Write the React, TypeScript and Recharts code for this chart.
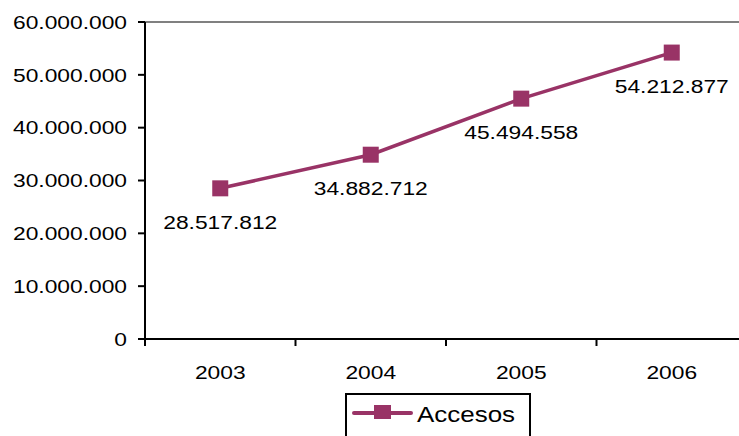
import React from 'react';
import { LineChart, Line, XAxis, YAxis, ReferenceLine, LabelList, Legend } from 'recharts';

const years = ['2003', '2004', '2005', '2006'];
const accesos = [28517812, 34882712, 45494558, 54212877];
const yTicks = [0, 10000000, 20000000, 30000000, 40000000, 50000000, 60000000];
const xTicks = [0, 0.5, 1, 1.5, 2, 2.5, 3, 3.5, 4];

const COLOR = '#993366';
const FONT = '"Liberation Sans", Arial, sans-serif';

// category positions sit in the middle of each slot, tick marks at the slot edges
const data = years.map((year, i) => ({ pos: i + 0.5, year, accesos: accesos[i] }));

const fmt = (v: number) => String(Math.round(v)).replace(/\B(?=(\d{3})+(?!\d))/g, '.');

const WideText = ({ x, y, anchor, size = 19, sx = 1.2, children }: any) => (
  <text
    transform={`translate(${x},${y}) scale(${sx},1)`}
    textAnchor={anchor}
    dominantBaseline="central"
    fontFamily={FONT}
    fontSize={size}
    fill="#000"
  >
    {children}
  </text>
);

const YTick = ({ x, y, payload }: any) => (
  <g>
    <line x1={x - 7} x2={x} y1={y} y2={y} stroke="#000" strokeWidth={2} />
    <WideText x={x - 18} y={y} anchor="end">{fmt(payload.value)}</WideText>
  </g>
);

const XTick = ({ x, y, payload }: any) => {
  const v = payload.value;
  if (Number.isInteger(v)) {
    return <line x1={x} x2={x} y1={y} y2={y + 7} stroke="#000" strokeWidth={2} />;
  }
  return <WideText x={x} y={y + 33} anchor="middle">{years[Math.floor(v)]}</WideText>;
};

const SquareDot = ({ cx, cy }: any) => (
  <rect x={cx - 8} y={cy - 8} width={16} height={16} fill={COLOR} />
);

const ValueLabel = ({ x, y, value }: any) => (
  <WideText x={x} y={y + 34} anchor="middle">{fmt(value)}</WideText>
);

const LegendBox = () => (
  <div style={{ width: 186, height: 60, border: '2px solid #000', boxSizing: 'border-box', background: '#fff' }}>
    <svg width={182} height={40}>
      <line x1={7} x2={64} y1={18} y2={18} stroke={COLOR} strokeWidth={4} strokeLinecap="round" />
      <rect x={27} y={10} width={17} height={14} fill={COLOR} />
      <WideText x={70} y={19} anchor="start" size={22} sx={1.18}>Accesos</WideText>
    </svg>
  </div>
);

export default function App() {
  return (
    <div style={{ position: 'absolute', left: 0, top: 0, width: 739, height: 436, overflow: 'hidden', background: '#fff' }}>
      <LineChart width={747} height={436} data={data} margin={{ top: 22, right: 0, left: 0, bottom: 0 }}>
        <ReferenceLine y={60000000} stroke="#808080" strokeWidth={2} />
        <XAxis
          type="number"
          dataKey="pos"
          domain={[0, 4]}
          ticks={xTicks}
          interval={0}
          height={97}
          tickSize={0}
          tickMargin={0}
          tickLine={false}
          tick={<XTick />}
          axisLine={{ stroke: '#000', strokeWidth: 2 }}
        />
        <YAxis
          domain={[0, 60000000]}
          ticks={yTicks}
          interval={0}
          width={145}
          tickSize={0}
          tickMargin={0}
          tickLine={false}
          tick={<YTick />}
          axisLine={{ stroke: '#000', strokeWidth: 2 }}
        />
        <Line
          type="linear"
          dataKey="accesos"
          stroke={COLOR}
          strokeWidth={3.5}
          dot={<SquareDot />}
          activeDot={false}
          isAnimationActive={false}
        >
          <LabelList dataKey="accesos" content={<ValueLabel />} />
        </Line>
        <Legend
          layout="horizontal"
          verticalAlign="middle"
          align="center"
          content={<LegendBox />}
          wrapperStyle={{ position: 'absolute', left: 345, top: 393, width: 186, height: 60 }}
        />
      </LineChart>
    </div>
  );
}
